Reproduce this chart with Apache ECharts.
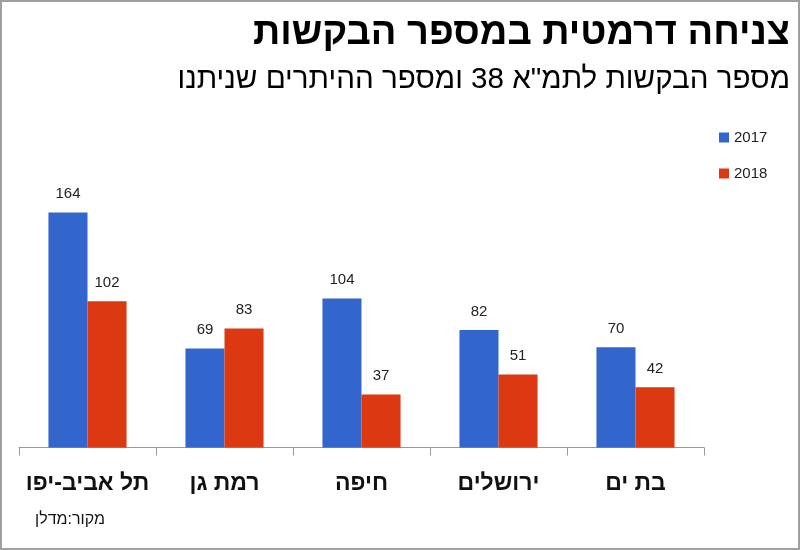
<!DOCTYPE html>
<html>
<head>
<meta charset="utf-8">
<script src="https://cdn.jsdelivr.net/npm/echarts@6/dist/echarts.min.js"></script>
<style>
html,body{margin:0;padding:0;background:#fff;}
#wrap{width:800px;height:550px;box-sizing:border-box;border:2px solid #a0a0a0;position:relative;overflow:hidden;}
#chart{position:absolute;left:-2px;top:-2px;width:800px;height:550px;}
</style>
</head>
<body>
<div id="wrap"><div id="chart"></div></div>
<script>
const categories = ['תל אביב-יפו', 'רמת גן', 'חיפה', 'ירושלים', 'בת ים'];
const seriesNames = ['2017', '2018'];
const values2017 = [164, 69, 104, 82, 70];
const values2018 = [102, 83, 37, 51, 42];
const titleText = 'צניחה דרמטית במספר הבקשות';
const subtitleText = 'מספר הבקשות לתמ"א 38 ומספר ההיתרים שניתנו';
const sourceText = 'מקור:מדלן';

const chart = echarts.init(document.getElementById('chart'));
const font = "'Liberation Sans', Arial, sans-serif";
chart.setOption({
  animation: false,
  textStyle: {fontFamily: font},
  graphic: [
    {type: 'text', right: 10, top: 15, style: {text: titleText, font: "bold 38px " + font, fill: '#000'}},
    {type: 'text', right: 10, top: 65, style: {text: subtitleText, font: "29.6px " + font, fill: '#000'}},
    {type: 'text', left: 35, top: 512, style: {text: sourceText, font: "16px " + font, fill: '#111'}}
  ],
  legend: {
    orient: 'vertical',
    left: 719,
    top: 130,
    padding: 0,
    itemWidth: 10,
    itemHeight: 10,
    itemGap: 21,
    icon: 'rect',
    textStyle: {fontSize: 15, color: '#222'},
    data: seriesNames
  },
  grid: {left: 19, right: 96, top: 103.5, bottom: 102.5, containLabel: false},
  xAxis: {
    type: 'category',
    data: categories,
    axisLine: {lineStyle: {color: '#999', width: 1}},
    axisTick: {show: true, interval: 0, length: 8, lineStyle: {color: '#999'}},
    axisLabel: {interval: 0, fontSize: 23, fontWeight: 'bold', color: '#111', margin: 25}
  },
  yAxis: {
    type: 'value', min: 0, max: 240,
    show: false,
    splitLine: {show: false}
  },
  series: [
    {name: seriesNames[0], type: 'bar', data: values2017, barGap: '0%', barCategoryGap: '43%',
     itemStyle: {color: '#3366cc'},
     label: {show: true, position: 'top', distance: 11, fontSize: 15, color: '#222'}},
    {name: seriesNames[1], type: 'bar', data: values2018, barGap: '0%', barCategoryGap: '43%',
     itemStyle: {color: '#dc3912'},
     label: {show: true, position: 'top', distance: 11, fontSize: 15, color: '#222'}}
  ]
});
</script>
</body>
</html>
